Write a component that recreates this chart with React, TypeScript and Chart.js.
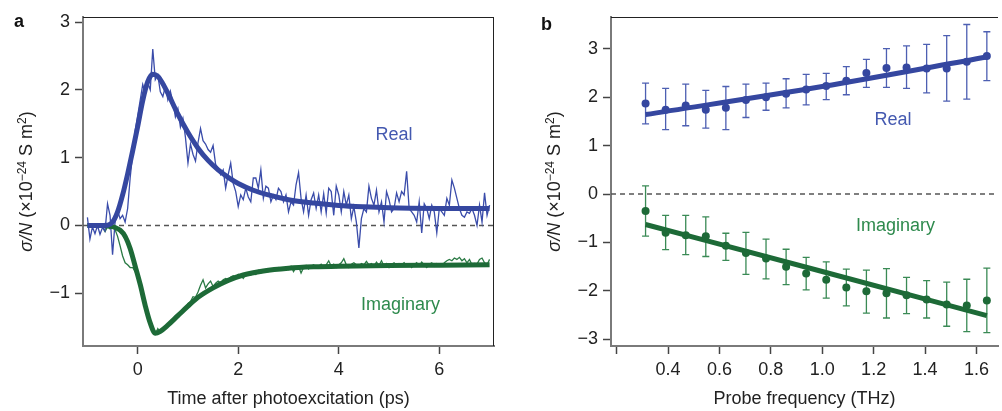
import React, { useEffect, useRef } from 'react';
import { Chart, registerables } from 'chart.js';

Chart.register(...registerables);

const FONT = "'Liberation Sans', Arial, Helvetica, sans-serif";

// ---------- Panel a: time-resolved data ----------
const T_START = -1;
const T_STEP = 0.05;

const REAL_DATA = [
  0.12, -0.2, -0.02, -0.12, 0.0, -0.13, -0.03, -0.08, 0.32, 0.15,
  -0.43, 0.05, 0.22, 0.1, 0.15, 0.05, 0.25, 0.7, 1.05, 1.4,
  1.62, 1.85, 2.08, 1.95, 2.1, 2.0, 2.6, 2.15, 2.22, 1.97,
  1.9, 2.05, 1.85, 1.98, 1.82, 1.6, 1.72, 1.45, 1.58, 1.3,
  0.92, 1.2, 1.05, 0.95, 1.22, 1.43, 1.25, 1.2, 1.12, 1.08,
  1.18, 0.9, 0.85, 0.75, 0.82, 0.55, 0.75, 0.92, 0.62, 0.5,
  0.28, 0.45, 0.38, 0.55, 0.42, 0.35, 0.7, 0.7, 0.55, 0.82,
  0.4, 0.58, 0.55, 0.35, 0.45, 0.38, 0.55, 0.5, 0.35, 0.45,
  0.2, 0.35, 0.3, 0.6, 0.78, 0.4, 0.2, 0.45, 0.15, 0.38,
  0.48, 0.25, 0.45, 0.2, 0.47, 0.18, 0.55, 0.5, 0.15, 0.58,
  0.45, 0.2, 0.5, 0.3, 0.45, 0.1, 0.28, 0.05, -0.33, 0.1,
  0.25, 0.2, 0.58, 0.4, 0.3, 0.52, 0.2, 0.35, 0.05, 0.5,
  0.38, 0.2, 0.25, 0.48, 0.35, 0.5, 0.45, 0.8, 0.25, 0.2,
  0.15, 0.05, 0.35, -0.11, 0.32, 0.25, 0.1, 0.3, 0.2, -0.11,
  0.25, 0.2, 0.15, 0.4, 0.3, 0.67, 0.55, 0.4, 0.25, 0.15,
  0.12, 0.2, 0.18, 0.25, 0.15, 0.0, 0.3, 0.05, 0.48, 0.15, 0.3,
];

const IMAG_DATA = [
  0.0, 0.0, -0.02, 0.01, -0.03, 0.0, -0.02, -0.09, -0.02, -0.05,
  -0.03, -0.06, -0.16, -0.3, -0.45, -0.55, -0.58, -0.62, -0.62, -0.68,
  -0.75, -0.9, -1.06, -1.22, -1.36, -1.47, -1.56, -1.6, -1.52, -1.58,
  -1.53, -1.5, -1.46, -1.44, -1.38, -1.36, -1.31, -1.3, -1.24, -1.22,
  -1.15, -1.12, -1.05, -1.06, -0.98, -0.88, -0.8, -0.92, -0.86, -0.82,
  -0.9, -0.85, -0.82, -0.85, -0.8, -0.78, -0.8, -0.76, -0.74, -0.76,
  -0.72, -0.74, -0.78, -0.72, -0.7, -0.73, -0.68, -0.72, -0.66, -0.7,
  -0.67, -0.65, -0.68, -0.64, -0.67, -0.65, -0.62, -0.66, -0.64, -0.61,
  -0.65, -0.6, -0.68, -0.62, -0.6, -0.7, -0.62, -0.59, -0.64, -0.6,
  -0.58, -0.62, -0.6, -0.57, -0.62, -0.58, -0.52, -0.6, -0.57, -0.62,
  -0.58, -0.55, -0.49, -0.58, -0.62, -0.57, -0.55, -0.58, -0.6, -0.56,
  -0.58, -0.53, -0.58, -0.56, -0.6, -0.54, -0.59, -0.52, -0.6, -0.56,
  -0.62, -0.57, -0.55, -0.6, -0.56, -0.58, -0.55, -0.6, -0.57, -0.62,
  -0.58, -0.55, -0.6, -0.54, -0.58, -0.62, -0.57, -0.55, -0.6, -0.56,
  -0.58, -0.6, -0.55, -0.52, -0.5, -0.52, -0.48, -0.5, -0.47, -0.52,
  -0.49, -0.55, -0.5, -0.58, -0.56, -0.57, -0.5, -0.48, -0.55, -0.58, -0.5,
];

const REAL_FIT_T = [-1, -0.8, -0.6, -0.5, -0.4, -0.3, -0.2, -0.1, 0, 0.1, 0.2, 0.3, 0.4, 0.5, 0.6, 0.8, 1.0, 1.2, 1.4, 1.6, 1.8, 2.0, 2.3, 2.6, 3.0, 3.5, 4.0, 4.5, 5.0, 6.0, 7.0];
const REAL_FIT = [0, 0, 0.005, 0.05, 0.2, 0.45, 0.76, 1.1, 1.46, 1.84, 2.12, 2.23, 2.2, 2.09, 1.95, 1.64, 1.37, 1.14, 0.96, 0.82, 0.71, 0.62, 0.52, 0.45, 0.38, 0.33, 0.295, 0.275, 0.262, 0.252, 0.25];

const IMAG_FIT_T = [-1, -0.7, -0.55, -0.45, -0.35, -0.25, -0.15, -0.05, 0.05, 0.15, 0.25, 0.35, 0.45, 0.6, 0.8, 1.0, 1.2, 1.5, 1.8, 2.1, 2.5, 3.0, 3.5, 4.0, 5.0, 6.0, 7.0];
const IMAG_FIT = [0, 0, -0.01, -0.03, -0.07, -0.16, -0.34, -0.6, -0.87, -1.18, -1.44, -1.59, -1.56, -1.47, -1.33, -1.19, -1.06, -0.92, -0.81, -0.73, -0.67, -0.63, -0.61, -0.6, -0.59, -0.585, -0.58];

const XA_MIN = -1.088;
const XA_MAX = 7.088;
const YA_MIN = -1.777;
const YA_MAX = 3.074;
const XA_TICKS = [0, 2, 4, 6];
const XA_LABELS = ['0', '2', '4', '6'];
const YA_TICKS = [-1, 0, 1, 2, 3];
const YA_LABELS = ['\u22121', '0', '1', '2', '3'];

// ---------- Panel b: frequency-resolved data ----------
const FREQ = [0.3125, 0.3906, 0.4688, 0.5469, 0.625, 0.7031, 0.7813, 0.8594, 0.9375, 1.0156, 1.0938, 1.1719, 1.25, 1.3281, 1.4063, 1.4844, 1.5625, 1.6406];
const REAL_B = [1.87, 1.74, 1.83, 1.74, 1.78, 1.94, 2.0, 2.07, 2.16, 2.23, 2.34, 2.5, 2.6, 2.61, 2.59, 2.59, 2.73, 2.85];
const REAL_B_HI = [2.29, 2.18, 2.27, 2.14, 2.22, 2.27, 2.29, 2.38, 2.47, 2.49, 2.63, 2.78, 3.0, 3.06, 3.09, 3.27, 3.5, 3.35];
const REAL_B_LO = [1.45, 1.33, 1.41, 1.36, 1.33, 1.58, 1.73, 1.78, 1.84, 1.95, 2.05, 2.2, 2.2, 2.18, 2.09, 1.92, 1.96, 2.34];
const IMAG_B = [-0.35, -0.8, -0.85, -0.87, -1.07, -1.22, -1.33, -1.5, -1.64, -1.77, -1.93, -2.01, -2.05, -2.09, -2.18, -2.28, -2.3, -2.2];
const IMAG_B_HI = [0.17, -0.44, -0.44, -0.47, -0.81, -0.79, -0.93, -1.14, -1.31, -1.4, -1.55, -1.57, -1.54, -1.72, -1.79, -1.82, -1.76, -1.53];
const IMAG_B_LO = [-0.87, -1.15, -1.25, -1.29, -1.37, -1.66, -1.75, -1.87, -1.98, -2.15, -2.31, -2.46, -2.56, -2.47, -2.56, -2.73, -2.84, -2.86];

const FIT_B_F = [0.3125, 1.0, 1.6406];
const REAL_FIT_B = [1.64, 2.22, 2.83];
const IMAG_FIT_B = [-0.63, -1.6, -2.51];

const XB_MIN = 0.178;
const XB_MAX = 1.684;
const YB_MIN = -3.138;
const YB_MAX = 3.655;
const XB_TICKS = [0.2, 0.4, 0.6, 0.8, 1.0, 1.2, 1.4, 1.6];
const XB_LABELS = ['', '0.4', '0.6', '0.8', '1.0', '1.2', '1.4', '1.6'];
const YB_TICKS = [-3, -2, -1, 0, 1, 2, 3];
const YB_LABELS = ['\u22123', '\u22122', '\u22121', '0', '1', '2', '3'];

// ---------- styles ----------
const BLUE = '#3547a0';
const BLUE_THIN = '#3a4caa';
const BLUE_BAR = '#4d5fb2';
const BLUE_TEXT = '#4459b0';
const GREEN = '#1d6a37';
const GREEN_THIN = '#2a7a44';
const GREEN_BAR = '#3a8a55';
const GREEN_TEXT = '#2e8a4d';
const AXIS = '#7a7a7a';
const TICK = '#444';
const TEXT = '#222';

function pts(xs: number[], ys: number[]) {
  return xs.map((x, i) => ({ x, y: ys[i] }));
}

function drawYTitle(ctx: CanvasRenderingContext2D, cx: number, cy: number, size: number) {
  const sup = Math.round(size * 0.68);
  const parts = [
    { t: '\u03c3/N', font: `italic ${size}px ${FONT}`, dy: 0 },
    { t: ' (\u00d710', font: `${size}px ${FONT}`, dy: 0 },
    { t: '\u221224', font: `${sup}px ${FONT}`, dy: -size * 0.38 },
    { t: ' S m', font: `${size}px ${FONT}`, dy: 0 },
    { t: '2', font: `${sup}px ${FONT}`, dy: -size * 0.38 },
    { t: ')', font: `${size}px ${FONT}`, dy: 0 },
  ];
  let total = 0;
  const widths = parts.map((p) => {
    ctx.font = p.font;
    const w = ctx.measureText(p.t).width;
    total += w;
    return w;
  });
  ctx.save();
  ctx.translate(cx, cy);
  ctx.rotate(-Math.PI / 2);
  ctx.fillStyle = TEXT;
  ctx.textAlign = 'left';
  ctx.textBaseline = 'alphabetic';
  let x = -total / 2;
  const base = size * 0.36;
  parts.forEach((p, i) => {
    ctx.font = p.font;
    ctx.fillText(p.t, x, base + p.dy);
    x += widths[i];
  });
  ctx.restore();
}

type Ann = { text: string; x: number; y: number; color: string };

function makeDecorPlugin(cfg: {
  letter: string;
  letterX: number;
  letterY: number;
  titleX: number;
  anns: Ann[];
  rightBorder: boolean;
  bars?: { x: number[]; lo: number[]; hi: number[]; color: string }[];
}) {
  return {
    id: 'decor',
    beforeDatasetsDraw(chart: any) {
      if (!cfg.bars) return;
      const ctx = chart.ctx as CanvasRenderingContext2D;
      const xs = chart.scales.x;
      const ys = chart.scales.y;
      ctx.save();
      for (const b of cfg.bars) {
        ctx.strokeStyle = b.color;
        ctx.lineWidth = 1.3;
        b.x.forEach((xv, i) => {
          const px = xs.getPixelForValue(xv);
          const p1 = ys.getPixelForValue(b.lo[i]);
          const p2 = ys.getPixelForValue(b.hi[i]);
          ctx.beginPath();
          ctx.moveTo(px, p1);
          ctx.lineTo(px, p2);
          ctx.moveTo(px - 3.5, p1);
          ctx.lineTo(px + 3.5, p1);
          ctx.moveTo(px - 3.5, p2);
          ctx.lineTo(px + 3.5, p2);
          ctx.stroke();
        });
      }
      ctx.restore();
    },
    afterDraw(chart: any) {
      const ctx = chart.ctx as CanvasRenderingContext2D;
      const ca = chart.chartArea;
      const xs = chart.scales.x;
      const ys = chart.scales.y;
      ctx.save();
      // frame top / right
      ctx.strokeStyle = '#222';
      ctx.lineWidth = 1;
      ctx.beginPath();
      ctx.moveTo(ca.left, ca.top + 0.5);
      ctx.lineTo(ca.right, ca.top + 0.5);
      if (cfg.rightBorder) {
        ctx.moveTo(ca.right - 0.5, ca.top);
        ctx.lineTo(ca.right - 0.5, ca.bottom);
      }
      ctx.stroke();
      // annotations
      ctx.font = `18px ${FONT}`;
      ctx.textAlign = 'center';
      ctx.textBaseline = 'middle';
      for (const a of cfg.anns) {
        ctx.fillStyle = a.color;
        ctx.fillText(a.text, xs.getPixelForValue(a.x), ys.getPixelForValue(a.y));
      }
      // panel letter
      ctx.font = `bold 18px ${FONT}`;
      ctx.fillStyle = '#111';
      ctx.textAlign = 'left';
      ctx.textBaseline = 'alphabetic';
      ctx.fillText(cfg.letter, cfg.letterX, cfg.letterY);
      ctx.restore();
      drawYTitle(ctx, cfg.titleX, (ca.top + ca.bottom) / 2, 18);
    },
  };
}

function axisX(min: number, max: number, ticks: number[], labels: string[], title: string) {
  return {
    type: 'linear' as const,
    min,
    max,
    afterFit: (s: any) => {
      s.height = 65;
    },
    afterBuildTicks: (s: any) => {
      s.ticks = ticks.map((v) => ({ value: v }));
    },
    ticks: {
      callback: (_v: any, i: number) => labels[i],
      font: { family: FONT, size: 18 },
      color: TEXT,
      padding: 5,
      autoSkip: false,
      maxRotation: 0,
    },
    grid: { drawOnChartArea: false, drawTicks: true, tickLength: 8, tickColor: TICK, tickWidth: 1.5 },
    border: { display: true, color: AXIS, width: 2 },
    title: { display: true, text: title, font: { family: FONT, size: 18 }, color: TEXT, padding: { top: 0, bottom: 1 } },
  };
}

function axisY(min: number, max: number, ticks: number[], labels: string[], width: number) {
  return {
    type: 'linear' as const,
    min,
    max,
    afterFit: (s: any) => {
      s.width = width;
    },
    afterBuildTicks: (s: any) => {
      s.ticks = ticks.map((v) => ({ value: v }));
    },
    ticks: {
      callback: (_v: any, i: number) => labels[i],
      font: { family: FONT, size: 18 },
      color: TEXT,
      padding: 5,
      autoSkip: false,
    },
    grid: { drawOnChartArea: false, drawTicks: true, tickLength: 8, tickColor: TICK, tickWidth: 1.5 },
    border: { display: true, color: AXIS, width: 2 },
  };
}

export default function App() {
  const refA = useRef<HTMLCanvasElement>(null);
  const refB = useRef<HTMLCanvasElement>(null);

  useEffect(() => {
    const timeAxis = REAL_DATA.map((_, i) => T_START + i * T_STEP);

    const chartA = new Chart(refA.current as HTMLCanvasElement, {
      type: 'line',
      data: {
        datasets: [
          {
            data: pts([XA_MIN, XA_MAX], [0, 0]),
            borderColor: '#555',
            borderWidth: 1.3,
            borderDash: [5, 4],
            pointRadius: 0,
            order: 5,
          },
          {
            data: pts(timeAxis, REAL_DATA),
            borderColor: BLUE_THIN,
            borderWidth: 1.3,
            pointRadius: 0,
            order: 3,
          },
          {
            data: pts(timeAxis, IMAG_DATA),
            borderColor: GREEN_THIN,
            borderWidth: 1.3,
            pointRadius: 0,
            order: 3,
          },
          {
            data: pts(REAL_FIT_T, REAL_FIT),
            borderColor: BLUE,
            borderWidth: 5,
            pointRadius: 0,
            cubicInterpolationMode: 'monotone',
            order: 1,
          },
          {
            data: pts(IMAG_FIT_T, IMAG_FIT),
            borderColor: GREEN,
            borderWidth: 5,
            pointRadius: 0,
            cubicInterpolationMode: 'monotone',
            order: 1,
          },
        ] as any,
      },
      options: {
        responsive: false,
        animation: false,
        devicePixelRatio: 1,
        layout: { padding: { left: 0, right: 6, top: 17, bottom: 0 } },
        plugins: { legend: { display: false }, tooltip: { enabled: false } },
        scales: {
          x: axisX(XA_MIN, XA_MAX, XA_TICKS, XA_LABELS, 'Time after photoexcitation (ps)'),
          y: axisY(YA_MIN, YA_MAX, YA_TICKS, YA_LABELS, 83),
        } as any,
      },
      plugins: [
        makeDecorPlugin({
          letter: 'a',
          letterX: 14,
          letterY: 27,
          titleX: 26,
          rightBorder: true,
          anns: [
            { text: 'Real', x: 5.1, y: 1.337, color: BLUE_TEXT },
            { text: 'Imaginary', x: 5.23, y: -1.17, color: GREEN_TEXT },
          ],
        }),
      ],
    });

    const chartB = new Chart(refB.current as HTMLCanvasElement, {
      type: 'line',
      data: {
        datasets: [
          {
            data: pts([XB_MIN, XB_MAX], [0, 0]),
            borderColor: '#555',
            borderWidth: 1.3,
            borderDash: [5, 4],
            pointRadius: 0,
            order: 5,
          },
          {
            data: pts(FIT_B_F, REAL_FIT_B),
            borderColor: BLUE,
            borderWidth: 5,
            pointRadius: 0,
            cubicInterpolationMode: 'monotone',
            order: 2,
          },
          {
            data: pts(FIT_B_F, IMAG_FIT_B),
            borderColor: GREEN,
            borderWidth: 5,
            pointRadius: 0,
            cubicInterpolationMode: 'monotone',
            order: 2,
          },
          {
            data: pts(FREQ, REAL_B),
            showLine: false,
            pointRadius: 4,
            pointBorderWidth: 0,
            pointBackgroundColor: BLUE,
            borderColor: BLUE,
            order: 0,
          },
          {
            data: pts(FREQ, IMAG_B),
            showLine: false,
            pointRadius: 4,
            pointBorderWidth: 0,
            pointBackgroundColor: GREEN,
            borderColor: GREEN,
            order: 0,
          },
        ] as any,
      },
      options: {
        responsive: false,
        animation: false,
        devicePixelRatio: 1,
        layout: { padding: { left: 0, right: 0, top: 17, bottom: 0 } },
        plugins: { legend: { display: false }, tooltip: { enabled: false } },
        scales: {
          x: axisX(XB_MIN, XB_MAX, XB_TICKS, XB_LABELS, 'Probe frequency (THz)'),
          y: axisY(YB_MIN, YB_MAX, YB_TICKS, YB_LABELS, 111),
        } as any,
      },
      plugins: [
        makeDecorPlugin({
          letter: 'b',
          letterX: 41,
          letterY: 30,
          titleX: 54,
          rightBorder: false,
          anns: [
            { text: 'Real', x: 1.275, y: 1.532, color: BLUE_TEXT },
            { text: 'Imaginary', x: 1.285, y: -0.657, color: GREEN_TEXT },
          ],
          bars: [
            { x: FREQ, lo: REAL_B_LO, hi: REAL_B_HI, color: BLUE_BAR },
            { x: FREQ, lo: IMAG_B_LO, hi: IMAG_B_HI, color: GREEN_BAR },
          ],
        }),
      ],
    });

    return () => {
      chartA.destroy();
      chartB.destroy();
    };
  }, []);

  return (
    <div style={{ position: 'fixed', left: 0, top: 0, width: 1002, height: 411, background: '#fff' }}>
      <canvas ref={refA} width={500} height={411} style={{ position: 'absolute', left: 0, top: 0, width: 500, height: 411 }} />
      <canvas ref={refB} width={502} height={411} style={{ position: 'absolute', left: 500, top: 0, width: 502, height: 411 }} />
    </div>
  );
}
